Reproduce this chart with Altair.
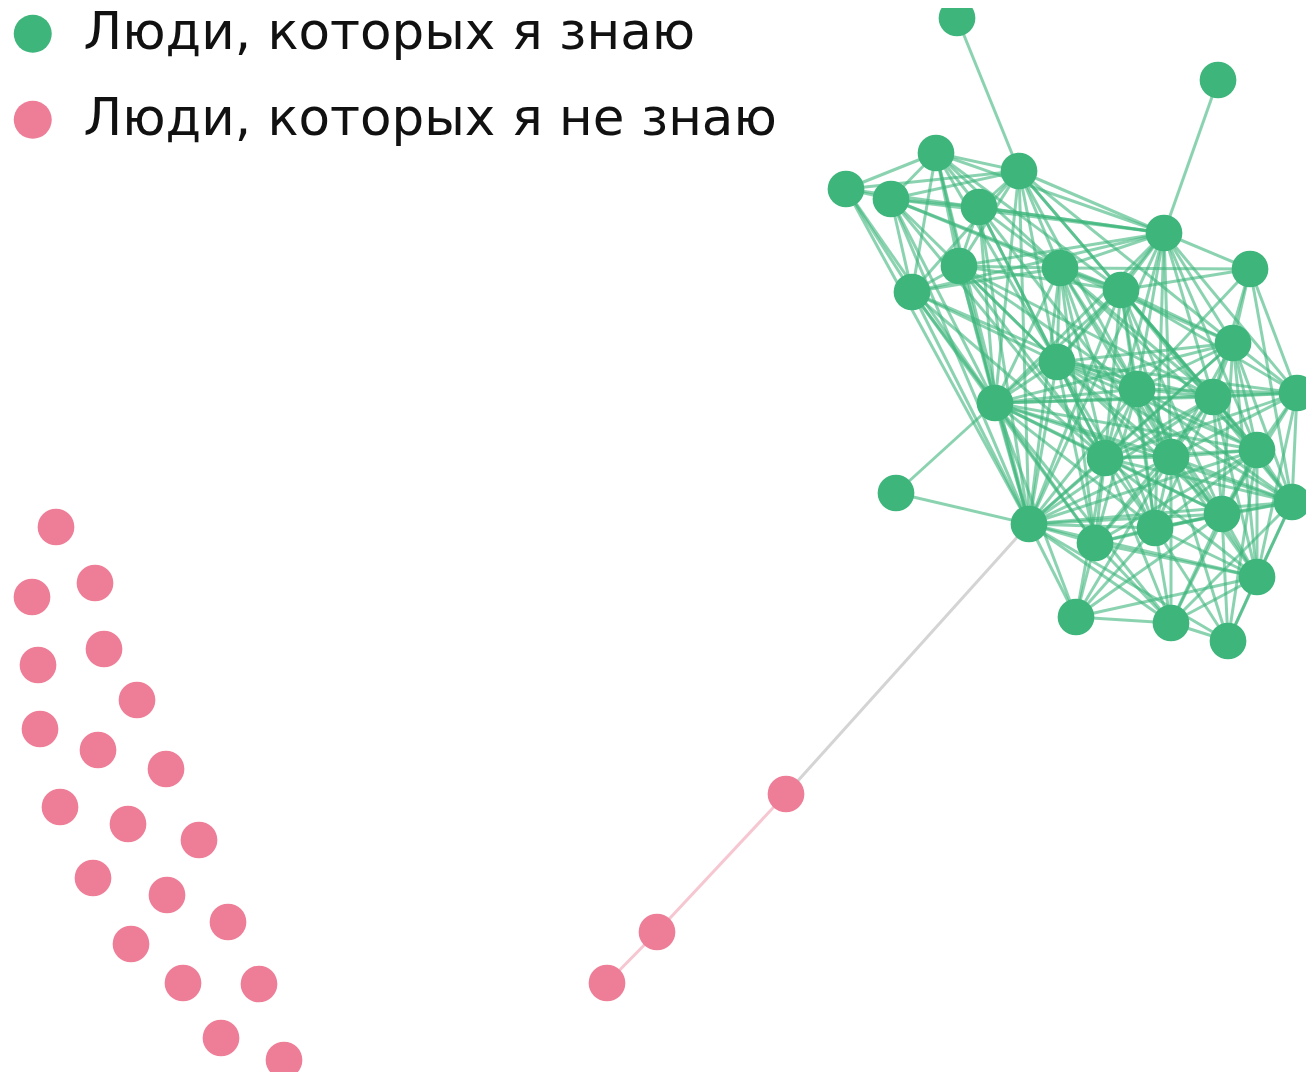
import altair as alt
import pandas as pd

# Node positions (in pixel-like units)
green_x = [957, 1218, 936, 1019, 846, 891, 979, 1164, 959, 1060, 1250, 912, 1121, 1233, 1057, 1137,
           1213, 1297, 995, 1105, 1171, 1257, 896, 1029, 1292, 1095, 1155, 1222, 1257, 1076, 1171, 1228]
green_y = [18, 80, 153, 171, 189, 199, 207, 233, 266, 268, 269, 292, 290, 343, 362, 389,
           397, 393, 403, 458, 457, 450, 493, 524, 502, 543, 528, 514, 577, 617, 623, 641]

pink_x = [56, 95, 32, 104, 38, 137, 40, 98, 166, 60, 128, 199, 93, 167, 228, 131, 183, 259, 221, 284,
          786, 657, 607]
pink_y = [527, 583, 597, 649, 665, 700, 729, 750, 769, 807, 824, 840, 878, 895, 922, 944, 983, 984, 1038, 1060,
          794, 932, 983]

labels = ["Люди, которых я знаю", "Люди, которых я не знаю"]

# Green-green edges (1-based node numbers of the green list)
green_edges = [
    (1, 4), (2, 8), (23, 19), (23, 24),
    (5, 3), (5, 6), (5, 4), (5, 12), (5, 19), (5, 24), (5, 8),
    (3, 6), (3, 4), (3, 7), (3, 8), (3, 9), (3, 10), (3, 12), (3, 15), (3, 19), (3, 13), (3, 24),
    (6, 4), (6, 7), (6, 8), (6, 10), (6, 12), (6, 15), (6, 19), (6, 24), (6, 13), (6, 20),
    (4, 7), (4, 8), (4, 9), (4, 10), (4, 12), (4, 13), (4, 15), (4, 16), (4, 19), (4, 24), (4, 14), (4, 17),
    (7, 8), (7, 9), (7, 10), (7, 15), (7, 19), (7, 20), (7, 21), (7, 24),
    (8, 9), (8, 10), (8, 11), (8, 13), (8, 14), (8, 15), (8, 16), (8, 17), (8, 18), (8, 19), (8, 20),
    (8, 21), (8, 22), (8, 24), (8, 27), (8, 12),
    (9, 10), (9, 12), (9, 13), (9, 15), (9, 16), (9, 19), (9, 20), (9, 24), (9, 17),
    (10, 13), (10, 14), (10, 15), (10, 16), (10, 17), (10, 19), (10, 20), (10, 21), (10, 22), (10, 24),
    (10, 26), (10, 27), (10, 11), (10, 12),
    (11, 13), (11, 14), (11, 17), (11, 18), (11, 16), (11, 25),
    (12, 19), (12, 24), (12, 15), (12, 16), (12, 20), (12, 26),
    (13, 14), (13, 15), (13, 16), (13, 17), (13, 18), (13, 19), (13, 20), (13, 21), (13, 22), (13, 24),
    (13, 27), (13, 28), (13, 25),
    (14, 15), (14, 16), (14, 17), (14, 18), (14, 20), (14, 21), (14, 22), (14, 25), (14, 28), (14, 19),
    (14, 24), (14, 29),
    (15, 16), (15, 17), (15, 18), (15, 19), (15, 20), (15, 21), (15, 22), (15, 24), (15, 26), (15, 27),
    (15, 28), (15, 25),
    (16, 17), (16, 18), (16, 19), (16, 20), (16, 21), (16, 22), (16, 24), (16, 26), (16, 27), (16, 28),
    (16, 25), (16, 29),
    (17, 18), (17, 19), (17, 20), (17, 21), (17, 22), (17, 24), (17, 25), (17, 27), (17, 28), (17, 29), (17, 26),
    (18, 21), (18, 22), (18, 25), (18, 28), (18, 29), (18, 20), (18, 19),
    (19, 20), (19, 21), (19, 22), (19, 24), (19, 26), (19, 27), (19, 28), (19, 25), (19, 30), (19, 31),
    (20, 21), (20, 22), (20, 24), (20, 26), (20, 27), (20, 28), (20, 29), (20, 30), (20, 31), (20, 25),
    (21, 22), (21, 24), (21, 25), (21, 26), (21, 27), (21, 28), (21, 29), (21, 30), (21, 31), (21, 32),
    (22, 24), (22, 25), (22, 26), (22, 27), (22, 28), (22, 29), (22, 31), (22, 32),
    (24, 26), (24, 27), (24, 28), (24, 29), (24, 30), (24, 31), (24, 32), (24, 25),
    (25, 28), (25, 29), (25, 27), (25, 32), (25, 31),
    (26, 27), (26, 28), (26, 29), (26, 30), (26, 31),
    (27, 28), (27, 29), (27, 30), (27, 31), (27, 32),
    (28, 29), (28, 30), (28, 31), (28, 32),
    (29, 31), (29, 32), (29, 30),
    (30, 31), (31, 32),
]
# Green-to-pink bridge edge (green no., pink no.) and pink-pink edges (pink no., pink no.)
bridge_edges = [(24, 21)]
pink_edges = [(21, 22), (22, 23)]

GREEN = "#3db57b"
PINK = "#ee7e97"

nodes = pd.DataFrame({
    "x": green_x + pink_x,
    "y": green_y + pink_y,
    "group": [labels[0]] * len(green_x) + [labels[1]] * len(pink_x),
})

rows = []
for a, b in green_edges:
    rows.append({"x": green_x[a - 1], "y": green_y[a - 1], "x2": green_x[b - 1], "y2": green_y[b - 1], "kind": "g"})
for a, b in bridge_edges:
    rows.append({"x": green_x[a - 1], "y": green_y[a - 1], "x2": pink_x[b - 1], "y2": pink_y[b - 1], "kind": "b"})
for a, b in pink_edges:
    rows.append({"x": pink_x[a - 1], "y": pink_y[a - 1], "x2": pink_x[b - 1], "y2": pink_y[b - 1], "kind": "p"})
edges = pd.DataFrame(rows)

xs = alt.Scale(domain=[8, 1306], nice=False, zero=False)
ys = alt.Scale(domain=[8, 1072], nice=False, zero=False, reverse=True)

edge_layer = alt.Chart(edges).mark_rule(strokeWidth=3, opacity=0.6).encode(
    x=alt.X("x:Q", scale=xs, axis=None),
    y=alt.Y("y:Q", scale=ys, axis=None),
    x2="x2:Q",
    y2="y2:Q",
    color=alt.Color("kind:N", scale=alt.Scale(domain=["g", "b", "p"], range=[GREEN, "#b8b8b8", "#f0a0b2"]),
                    legend=None),
)

node_layer = alt.Chart(nodes).mark_point(filled=True, opacity=1, size=1350, shape="circle").encode(
    x=alt.X("x:Q", scale=xs, axis=None),
    y=alt.Y("y:Q", scale=ys, axis=None),
    fill=alt.Fill("group:N", scale=alt.Scale(domain=labels, range=[GREEN, PINK]),
                  legend=alt.Legend(title=None, orient="none", legendX=-1, legendY=0,
                                    symbolType="circle", symbolSize=1444, symbolOpacity=1,
                                    labelFontSize=51.5, labelFont="DejaVu Sans", labelColor="#111111",
                                    labelOffset=25, rowPadding=33, padding=0, labelLimit=900)),
)

chart = alt.layer(edge_layer, node_layer).resolve_scale(color="independent").properties(
    width=1298, height=1064,
    autosize=alt.AutoSizeParams(type="none"),
    padding=0,
).configure_view(stroke=None)

chart.save("out.html", embed_options={"renderer": "svg", "actions": False})
